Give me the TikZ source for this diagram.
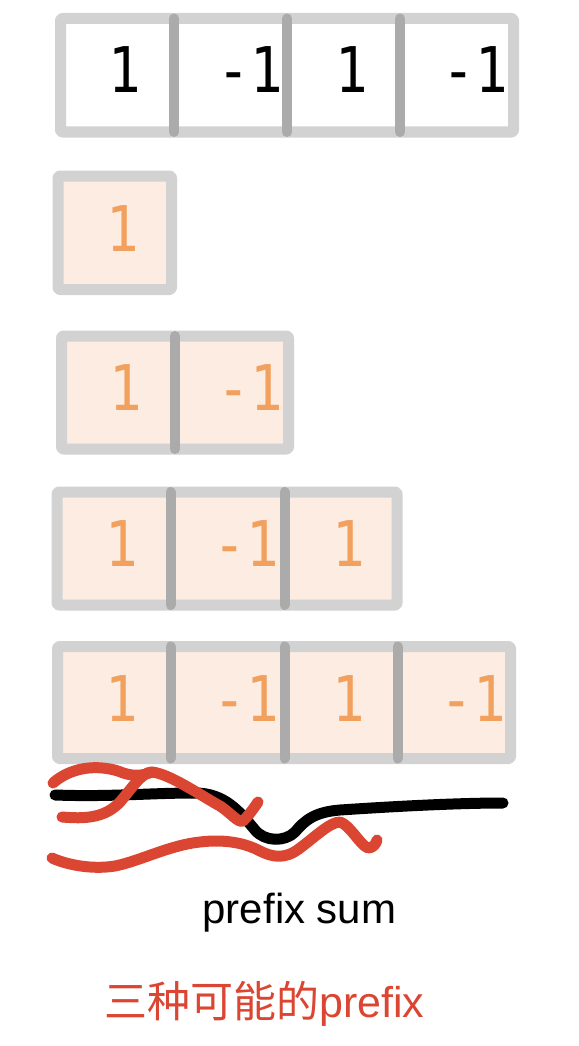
\documentclass[tikz,border=0pt]{standalone}
\usepackage{fontspec}
\newfontfamily\digitfont[FakeStretch=0.86]{DejaVu Sans Mono}
\newfontfamily\labelfont{Liberation Sans}
\newfontfamily\cjkfont{Noto Sans CJK SC}
\definecolor{boxgray}{HTML}{D2D2D2}
\definecolor{divgray}{HTML}{ABABAB}
\definecolor{peach}{HTML}{FCECE1}
\definecolor{numorange}{HTML}{F2A05E}
\definecolor{scribred}{HTML}{DB4632}
\tikzset{
  boxline/.style={draw=boxgray, line width=11pt, line join=round, rounded corners=2pt},
  divline/.style={draw=divgray, line width=10pt, line cap=round},
  num/.style={anchor=base, inner sep=0pt, font=\digitfont\fontsize{63}{63}\selectfont},
  blacknum/.style={num, text=black},
  orangenum/.style={num, text=numorange},
  blackscrib/.style={draw=black, line width=11pt, line cap=round, line join=round},
  redscrib/.style={draw=scribred, line width=11pt, line cap=round, line join=round},
}
\begin{document}
\begin{tikzpicture}[x=1pt, y=-1pt]
\useasboundingbox[fill=white] (0,0) rectangle (578,1046);

% Row 1 (original array)
\draw[boxline, fill=white] (60.5,18.5) rectangle (513.5,132);
\foreach \x in {174,287,400} \draw[divline] (\x,18.5) -- (\x,132);
\node[blacknum] (a1) at (125,93) {1};
\node[blacknum] (a2) at (250,93) {-1};
\node[blacknum] (a3) at (351.5,93) {1};
\node[blacknum] (a4) at (475.5,93) {-1};

% Row 2
\draw[boxline, fill=peach] (58,176) rectangle (171.5,289.5);
\node[orangenum] (b1) at (123,251) {1};

% Row 3
\draw[boxline, fill=peach] (61.5,336) rectangle (288.5,449);
\draw[divline] (175,336) -- (175,449);
\node[orangenum] (c1) at (126,410) {1};
\node[orangenum] (c2) at (250.5,410) {-1};

% Row 4
\draw[boxline, fill=peach] (57,492) rectangle (397,605);
\foreach \x in {170.5,284.5} \draw[divline] (\x,492) -- (\x,605);
\node[orangenum] (d1) at (121.5,566) {1};
\node[orangenum] (d2) at (246.5,566) {-1};
\node[orangenum] (d3) at (348.5,566) {1};

% Row 5
\draw[boxline, fill=peach] (57.5,646.5) rectangle (510.5,758.5);
\foreach \x in {170.5,284.5,397.5} \draw[divline] (\x,646.5) -- (\x,758.5);
\node[orangenum] (e1) at (121.5,721) {1};
\node[orangenum] (e2) at (246.5,721) {-1};
\node[orangenum] (e3) at (348.5,721) {1};
\node[orangenum] (e4) at (473,721) {-1};

% Scribbles
\draw[blackscrib] (55,795) .. controls (110,797) and (150,793) .. (195,793)
  .. controls (225,793) and (240,812) .. (255,830)
  .. controls (265,842) and (285,842) .. (295,832)
  .. controls (305,820) and (315,812) .. (340,810)
  .. controls (400,806) and (460,803) .. (503,803);
\draw[redscrib] (53,783) .. controls (70,768) and (95,764) .. (118,771)
  .. controls (132,777) and (142,776) .. (152,772);
\draw[redscrib] (62,817) .. controls (85,819) and (105,818) .. (120,802)
  .. controls (132,788) and (142,772) .. (152,772)
  .. controls (170,774) and (200,795) .. (220,806)
  .. controls (232,814) and (238,823) .. (243,821)
  .. controls (249,815) and (254,808) .. (258,802);
\draw[redscrib] (52,858) .. controls (65,864) and (90,870) .. (115,866)
  .. controls (140,861) and (170,845) .. (200,842)
  .. controls (225,839) and (245,843) .. (260,851)
  .. controls (272,857) and (285,860) .. (300,848)
  .. controls (315,837) and (330,822) .. (340,822)
  .. controls (350,825) and (360,845) .. (368,848)
  .. controls (373,848) and (376,844) .. (377,840);

% Labels
\node[anchor=base, inner sep=0pt, font=\labelfont\fontsize{42}{42}\selectfont] (ps) at (299.5,923) {prefix sum};
\node[anchor=base west, inner sep=0pt, text=scribred, font=\fontsize{43}{43}\selectfont] (three) at (104,1017) {{\cjkfont 三种可能的}{\labelfont prefix}};
\end{tikzpicture}
\end{document}
